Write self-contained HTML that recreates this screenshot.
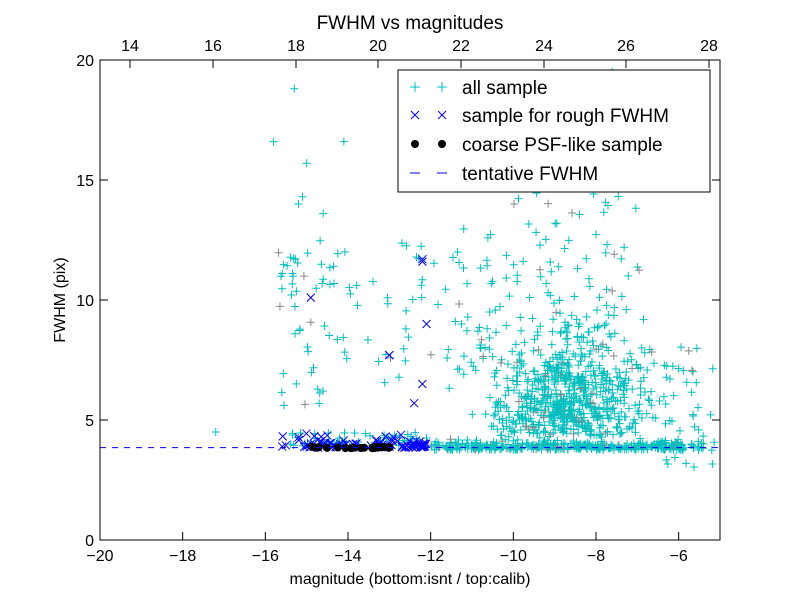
<!DOCTYPE html>
<html><head><meta charset="utf-8"><style>
body{margin:0;background:#fff}
svg{display:block;font-family:"Liberation Sans","DejaVu Sans",sans-serif}
</style></head><body>
<svg id="s" width="800" height="600" viewBox="0 0 800 600" xmlns="http://www.w3.org/2000/svg">
<rect width="800" height="600" fill="#fff"/>
<defs><clipPath id="cp"><rect x="100" y="60" width="620" height="480"/></clipPath></defs>
<g id="pts" clip-path="url(#cp)"></g>
<line x1="100" y1="447.6" x2="720" y2="447.6" stroke="#0000ff" stroke-width="1" stroke-dasharray="6,6"/>
<rect x="100" y="60" width="620" height="480" fill="none" stroke="#000" stroke-width="1"/>
<g id="ticks" stroke="#000" stroke-width="1"></g>
<g font-size="16" fill="#000" text-anchor="middle">
<text x="100" y="561">−20</text><text x="182.7" y="561">−18</text><text x="265.3" y="561">−16</text>
<text x="348" y="561">−14</text><text x="430.7" y="561">−12</text><text x="513.3" y="561">−10</text>
<text x="596" y="561">−8</text><text x="678.7" y="561">−6</text>
<text x="130" y="51">14</text><text x="213" y="51">16</text><text x="296" y="51">18</text>
<text x="378" y="51">20</text><text x="461" y="51">22</text><text x="544" y="51">24</text>
<text x="626" y="51">26</text><text x="709" y="51">28</text>
</g>
<g font-size="16" fill="#000" text-anchor="end">
<text x="94" y="546">0</text><text x="94" y="426">5</text><text x="94" y="306">10</text>
<text x="94" y="186">15</text><text x="94" y="66">20</text>
</g>
<text x="410" y="584" font-size="16" text-anchor="middle">magnitude (bottom:isnt / top:calib)</text>
<text x="410" y="29" font-size="19" text-anchor="middle">FWHM vs magnitudes</text>
<text transform="translate(65,300) rotate(-90)" font-size="16" text-anchor="middle">FWHM (pix)</text>
<rect x="398" y="70" width="312" height="122" fill="#fff" stroke="#000" stroke-width="1"/>
<g stroke-width="1">
<path d="M410 87h10M415 82v10M437 87h10M442 82v10" stroke="#00bfbf"/>
<path d="M411 111l8 8M419 111l-8 8M438 111l8 8M446 111l-8 8" stroke="#0000ff"/>
<circle cx="415" cy="144" r="4"/><circle cx="442" cy="144" r="4"/>
<path d="M410 173h10M437 173h10" stroke="#0000ff"/>
</g>
<g font-size="19" fill="#000">
<text x="462" y="94">all sample</text>
<text x="462" y="122">sample for rough FWHM</text>
<text x="462" y="151">coarse PSF-like sample</text>
<text x="462" y="180">tentative FWHM</text>
</g>
</svg>
<script>
var g=document.getElementById('pts'),t=document.getElementById('ticks');
var seed=11;function r(){seed=(seed*16807)%2147483647;return seed/2147483647;}
function n(){return (r()+r()+r()+r()-2)/1.15;}
function X(v){return 100+(v+20)*620/15;}function Y(v){return 540-v*24;}
var h='';
function plus(x,y,c){h+='<path d="M'+(X(x)-4)+' '+Y(y)+'h8M'+X(x)+' '+(Y(y)-4)+'v8" stroke="'+c+'" fill="none"/>';}
function cross(x,y){var a=X(x),b=Y(y);h+='<path d="M'+(a-4)+' '+(b-4)+'l8 8M'+(a+4)+' '+(b-4)+'l-8 8" stroke="#0000ff" fill="none"/>';}
function c(){return r()<0.07?'#888':'#00bfbf';}
var i,x,y;
// dense cluster
for(i=0;i<650;i++){x=-8.7+n()*1.7;y=4.0+Math.abs(n())*3.2+r()*1.0;if(r()<0.15)y+=r()*4;if(x<-10.6)x=-10.6+r()*0.5;if(x>-5.1)continue;plus(x,y,c());}
// band
for(i=0;i<350;i++){x=-12+r()*6.6;y=3.75+Math.abs(n())*0.35;plus(x,y,c());}
// right sparse
for(i=0;i<60;i++){x=-7.5+r()*2.4;y=3+r()*5.5;plus(x,y,c());}
// upper middle sparse
for(i=0;i<100;i++){x=-11.5+r()*5;y=7+r()*7.5;if(x>-7)y-=2;plus(x,y,c());}
for(i=0;i<25;i++){x=-10.5+r()*3.5;y=14+r()*6;plus(x,y,c());}
for(i=0;i<25;i++){x=-12+r()*1.5;y=5+r()*8;plus(x,y,c());}
// left scatter
for(i=0;i<45;i++){x=-15.7+r()*1.3;y=5.5+r()*7;plus(x,y,c());}
for(i=0;i<35;i++){x=-14.4+r()*2.2;y=6.5+r()*6;plus(x,y,c());}
[[-15.3,18.8],[-15.8,16.6],[-14.1,16.6],[-15,15.7],[-17.2,4.5],[-15.2,14],[-14.6,13.6],[-15.1,14.3]].forEach(function(p){plus(p[0],p[1],c());});
for(i=0;i<50;i++){x=-15.4+r()*3.3;y=3.9+r()*0.6;plus(x,y,'#00bfbf');}
// blue crosses
for(i=0;i<60;i++){x=-15.6+r()*3.5;y=3.85+Math.abs(n())*0.45;cross(x,y);}
for(i=0;i<25;i++){x=-12.7+r()*0.6;y=3.85+Math.abs(n())*0.15;cross(x,y);}
[[-14.9,10.1],[-12.2,11.7],[-12.2,11.6],[-12.1,9],[-13,7.7],[-13,7.7],[-12.2,6.5],[-12.4,5.7]].forEach(function(p){cross(p[0],p[1]);});
// black dots
for(i=0;i<24;i++){x=-14.9+r()*2.1;y=3.85+n()*0.04;h+='<circle cx="'+X(x)+'" cy="'+Y(y)+'" r="4" fill="#000"/>';}
g.innerHTML=h;
var k='';
for(var v=-20;v<=-5;v+=2){var a=X(v);k+='<line x1="'+a+'" y1="540" x2="'+a+'" y2="532"/>';}
for(v=0;v<=20;v+=5){var b=Y(v);k+='<line x1="100" y1="'+b+'" x2="108" y2="'+b+'"/><line x1="720" y1="'+b+'" x2="712" y2="'+b+'"/>';}
[130,213,296,378,461,544,626,709].forEach(function(a){k+='<line x1="'+a+'" y1="60" x2="'+a+'" y2="68"/>';});
t.innerHTML=k;
</script>
</body></html>
